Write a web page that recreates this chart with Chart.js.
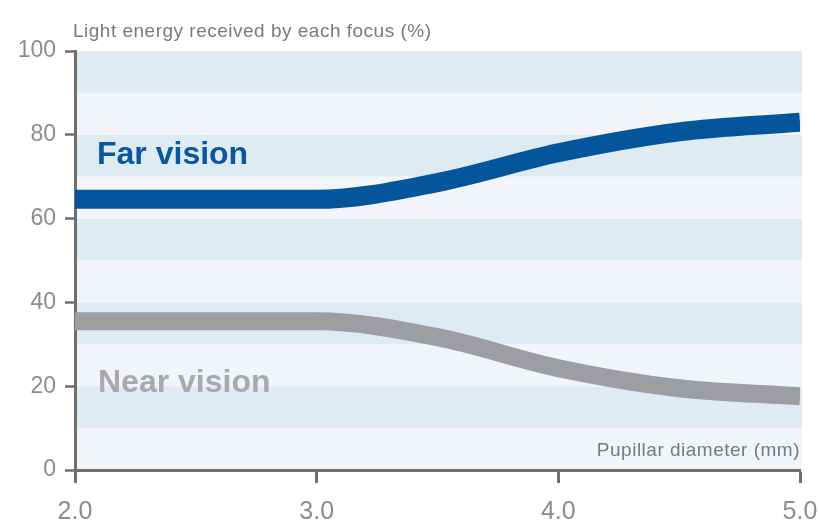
<!DOCTYPE html>
<html>
<head>
<meta charset="utf-8">
<script src="https://cdn.jsdelivr.net/npm/chart.js@4/dist/chart.umd.min.js"></script>
<style>
  html,body{margin:0;padding:0;background:#fff;}
  #wrap{width:820px;height:523px;}
</style>
</head>
<body>
<div id="wrap"><canvas id="c" width="820" height="523"></canvas></div>
<script>
// pupil diameter (mm) and share of light per focus (%)
const pupil = [2.0, 2.5, 3.0, 3.5, 4.0, 4.5, 5.0];
const farVision = [64.6, 64.6, 64.6, 68.6, 75.7, 80.7, 83.0];
const nearVision = [35.5, 35.5, 35.5, 31.7, 24.3, 19.5, 17.6];
const yTicks = [0, 20, 40, 60, 80, 100];
const xTicks = [2.0, 3.0, 4.0, 5.0];

const AXIS = '#6e6e6e', TXT = '#8c8c8c';
const FONT = '"Liberation Sans", Arial, sans-serif';

const toPts = ys => pupil.map((x,i)=>({x, y: ys[i]}));

// alternating horizontal bands every 10 %
const bands = {
  id:'bands',
  beforeDraw(chart){
    const {ctx, chartArea:a, scales:{y}} = chart;
    ctx.save();
    for(let v=0; v<100; v+=10){
      const top=y.getPixelForValue(v+10), bot=y.getPixelForValue(v);
      ctx.fillStyle = (v/10)%2 ? '#deebf3' : '#f1f5f9';
      ctx.fillRect(a.left, top, a.right-a.left+2, bot-top);
    }
    ctx.restore();
  }
};

// axis titles + series labels
const labels = {
  id:'labels',
  afterDraw(chart){
    const {ctx, chartArea:a, scales:{y}} = chart;
    ctx.save();
    ctx.textBaseline='alphabetic';
    ctx.fillStyle='#7a7a7a';
    ctx.font='19px '+FONT;
    ctx.letterSpacing='0.5px';
    ctx.textAlign='left';
    ctx.fillText('Light energy received by each focus (%)', a.left-2, 37);
    ctx.textAlign='right';
    ctx.fillText('Pupillar diameter (mm)', a.right, 456);
    ctx.letterSpacing='0px';
    ctx.textAlign='left';
    ctx.font='bold 32px '+FONT;
    ctx.fillStyle='#0a56a0';
    ctx.fillText('Far vision', a.left+22, y.getPixelForValue(73));
    ctx.font='bold 32px '+FONT;
    ctx.fillStyle='#a9a9ab';
    ctx.fillText('Near vision', a.left+23, y.getPixelForValue(18.5));
    ctx.restore();
  }
};

new Chart(document.getElementById('c'), {
  type:'line',
  data:{datasets:[
    {label:'Far vision', data:toPts(farVision), borderColor:'#04559b', borderWidth:19,
     borderCapStyle:'butt', pointRadius:0, cubicInterpolationMode:'monotone'},
    {label:'Near vision', data:toPts(nearVision), borderColor:'#9d9ea2', borderWidth:18,
     borderCapStyle:'butt', pointRadius:0, cubicInterpolationMode:'monotone'}
  ]},
  options:{
    responsive:false, animation:false,
    layout:{padding:{left:0, right:20, top:51, bottom:0}},
    plugins:{legend:{display:false}, tooltip:{enabled:false}},
    scales:{
      x:{type:'linear', min:2, max:5,
        afterBuildTicks:s=>{ s.ticks = xTicks.map(v=>({value:v})); },
        afterFit:s=>{ s.height = 53; s.paddingLeft = 0; s.paddingRight = 0; },
        ticks:{color:TXT, font:{family:FONT, size:25}, padding:14,
          callback:v=>Number(v).toFixed(1)},
        grid:{drawOnChartArea:false, tickLength:13, tickWidth:3, tickColor:AXIS},
        border:{color:AXIS, width:3}
      },
      y:{min:0, max:100,
        afterBuildTicks:s=>{ s.ticks = yTicks.map(v=>({value:v})); },
        afterFit:s=>{ s.width = 75; s.paddingTop = 0; s.paddingBottom = 0; },
        ticks:{color:TXT, font:{family:FONT, size:23}, padding:9},
        grid:{drawOnChartArea:false, tickLength:10, tickWidth:2.5, tickColor:AXIS},
        border:{color:AXIS, width:3}
      }
    }
  },
  plugins:[bands, labels]
});
</script>
</body>
</html>
